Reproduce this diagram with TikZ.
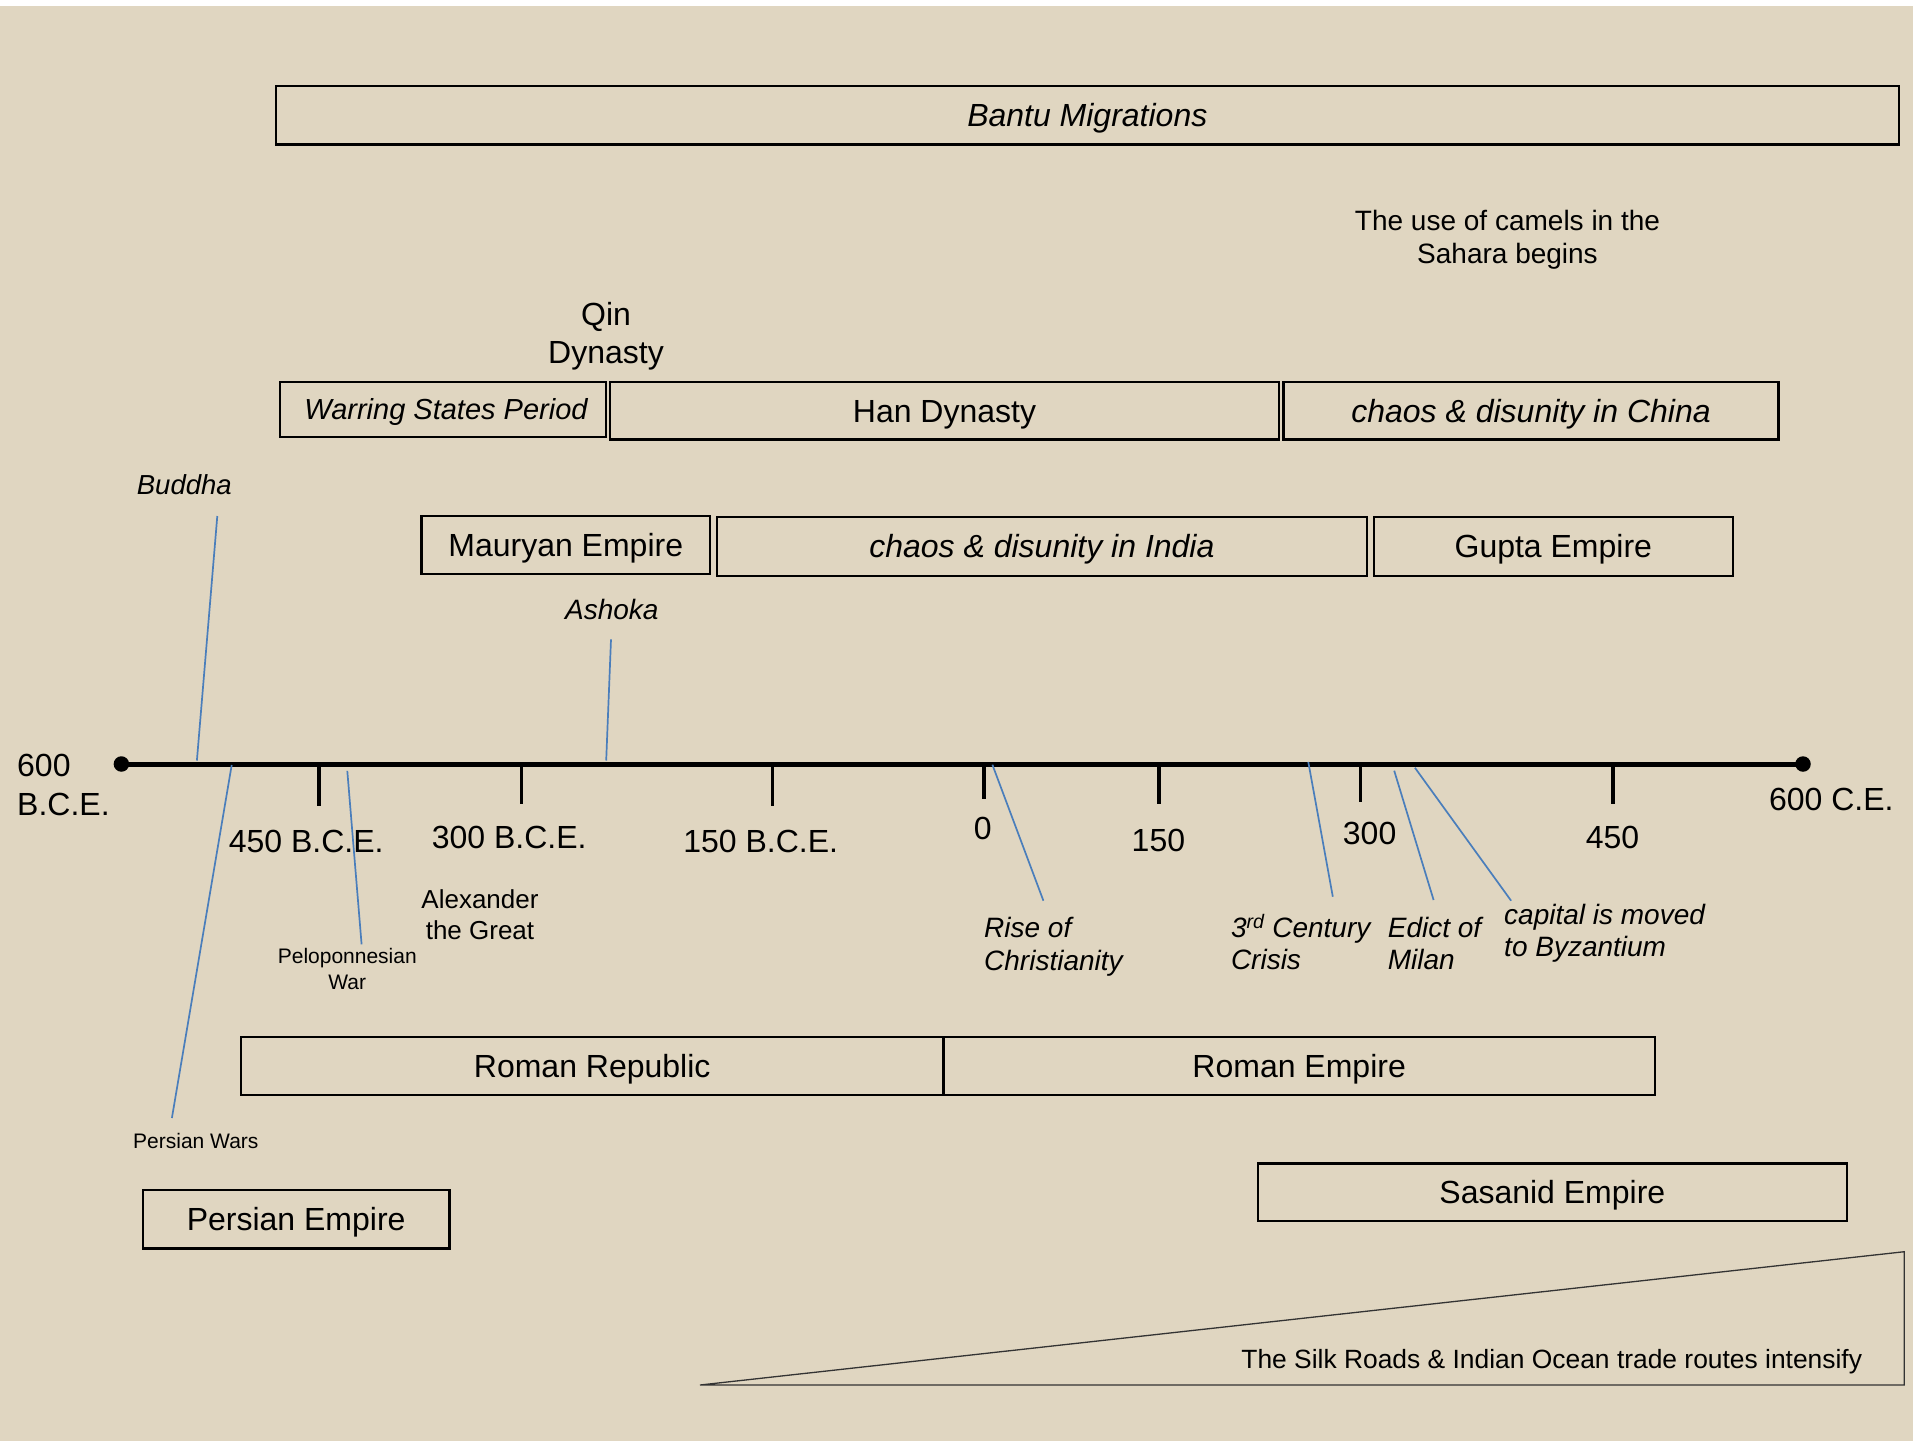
\documentclass[tikz,border=0pt]{standalone}
\usepackage{fontspec}
\setmainfont{Liberation Sans}
\definecolor{bg}{RGB}{224,214,193}
\definecolor{linkblue}{RGB}{74,126,187}
\newcommand{\fsz}[2]{\fontsize{#1}{#2}\selectfont}
\begin{document}
\begin{tikzpicture}[x=1pt,y=-1pt,
  box/.style={draw=black,line width=2.4pt,inner sep=0pt,text height=23.7pt,text depth=0.6pt,font=\fsz{32}{38}},
  itbox/.style={box,font=\fsz{32}{38}\itshape},
  lbl/.style={inner sep=0pt},
  conn/.style={draw=linkblue,line width=1.7pt},
  tickmark/.style={line width=3.6pt},
  dot/.style={circle,fill=black,inner sep=0pt,minimum size=15.5pt}]
% background
\useasboundingbox (0,0) rectangle (1913,1441);
\fill[white] (0,0) rectangle (1913,1441);
\fill[bg] (0,6) rectangle (1913,1441);

% period boxes
\node[itbox,minimum width=1622.8pt,minimum height=58.3pt] (bantu) at (1087.3,115.15) {Bantu Migrations};
\node[box,minimum width=326pt,minimum height=54.7pt,font=\fsz{29}{35}\itshape,text height=21.5pt,text depth=0.5pt] (warring) at (443,409.35) {\hspace*{6pt}Warring States Period};
\node[box,minimum width=669pt,minimum height=57.6pt] (han) at (944.5,410.5) {Han Dynasty};
\node[itbox,minimum width=495pt,minimum height=57.6pt] (china) at (1531,410.5) {chaos \& disunity in China};
\node[box,minimum width=288.5pt,minimum height=58.3pt] (mauryan) at (565.75,544.85) {Mauryan Empire};
\node[itbox,minimum width=650.2pt,minimum height=59.3pt] (india) at (1041.9,546.35) {chaos \& disunity in India};
\node[box,minimum width=359pt,minimum height=59.3pt] (gupta) at (1553.3,546.35) {Gupta Empire};
\node[box,minimum width=702.2pt,minimum height=58.3pt] (republic) at (592.2,1065.85) {Roman Republic};
\node[box,minimum width=711.7pt,minimum height=58.3pt] (rempire) at (1299.15,1065.85) {Roman Empire};
\node[box,minimum width=306.7pt,minimum height=58.3pt] (persian) at (296.15,1219.35) {Persian Empire};
\node[box,minimum width=589.3pt,minimum height=57.7pt] (sasanid) at (1552.35,1192.15) {Sasanid Empire};

% timeline
\node[dot] (tlL) at (121.4,764) {};
\node[dot] (tlR) at (1803,764) {};
\draw[line width=5pt] (tlL.center) -- (tlR.center);
\foreach \n/\x/\b in {t450/318.7/806,t300/521.4/804,t150/772.3/806,t0/984/799,c150/1159/804,c300/1360.6/802,c450/1613.2/804}{
  \coordinate (\n a) at (\x,764);
  \coordinate (\n b) at (\x,\b);
  \draw[tickmark] (\n a) -- (\n b);
}

% timeline labels (multi-line nodes are anchored at the baseline of their last line)
\node[lbl,anchor=base west,align=left,font=\fsz{32}{38.4}] (l600b) at (17,815) {600\\B.C.E.};
\node[lbl,anchor=base west,font=\fsz{32}{38}] (l450b) at (228.6,852) {450 B.C.E.};
\node[lbl,anchor=base west,font=\fsz{32}{38}] (l300b) at (431.7,848.2) {300 B.C.E.};
\node[lbl,anchor=base west,font=\fsz{32}{38}] (l150b) at (683.2,852) {150 B.C.E.};
\node[lbl,anchor=base,font=\fsz{32}{38}] (l0) at (982.7,839.3) {0};
\node[lbl,anchor=base,font=\fsz{32}{38}] (l150) at (1158.4,851.7) {150};
\node[lbl,anchor=base,font=\fsz{32}{38}] (l300) at (1369.6,844.3) {300};
\node[lbl,anchor=base,font=\fsz{32}{38}] (l450) at (1612.5,848.3) {450};
\node[lbl,anchor=base west,font=\fsz{32}{38}] (l600c) at (1768.9,810) {600 C.E.};

% event labels
\node[lbl,anchor=base,align=center,font=\fsz{32}{38}] (qin) at (606,363) {Qin\\Dynasty};
\node[lbl,anchor=base,align=center,font=\fsz{28}{32.6}] (camels) at (1507.5,263.3) {The use of camels in the\\Sahara begins};
\node[lbl,anchor=base west,font=\fsz{27.5}{33}\itshape] (buddha) at (136.7,494.3) {Buddha};
\node[lbl,anchor=base,font=\fsz{28}{33}\itshape] (ashoka) at (611.8,619.3) {Ashoka};
\node[lbl,anchor=base,align=center,font=\fsz{26}{31.4}] (alex) at (480,939.4) {Alexander\\the Great};
\node[lbl,anchor=base,align=center,font=\fsz{21}{25.5}] (pelop) at (347.3,989) {Peloponnesian\\War};
\node[lbl,anchor=base west,font=\fsz{21}{25.5}] (pwars) at (133,1148.9) {Persian Wars};
\node[lbl,anchor=base west,align=left,font=\fsz{28}{33.4}\itshape] (rise) at (984,970.7) {Rise of\\Christianity};
\node[lbl,anchor=base west,align=left,font=\fsz{28}{32.2}\itshape] (crisis) at (1230.8,969.5) {3\textsuperscript{rd} Century\\Crisis};
\node[lbl,anchor=base west,align=left,font=\fsz{28}{32.2}\itshape] (edict) at (1387.7,969.5) {Edict of\\Milan};
\node[lbl,anchor=base west,align=left,font=\fsz{28}{32.7}\itshape] (capital) at (1504,956.7) {capital is moved\\to Byzantium};

% connectors
\coordinate (buddhaA) at (217.3,516);   \coordinate (buddhaB) at (196.9,760.5);
\coordinate (ashokaA) at (611,639.3);   \coordinate (ashokaB) at (606.2,760.5);
\coordinate (pwarsA) at (231.7,765);    \coordinate (pwarsB) at (171.9,1118);
\coordinate (pelopA) at (347.3,770.9);  \coordinate (pelopB) at (361.6,944.4);
\coordinate (riseA) at (992.4,764.7);   \coordinate (riseB) at (1043.4,900.7);
\coordinate (crisisA) at (1308.3,762);  \coordinate (crisisB) at (1332.8,896.7);
\coordinate (edictA) at (1394.2,770.7); \coordinate (edictB) at (1433.6,900);
\coordinate (capA) at (1414.9,767.7);   \coordinate (capB) at (1511.1,900.7);
\draw[conn] (buddhaA) -- (buddhaB);
\draw[conn] (ashokaA) -- (ashokaB);
\draw[conn] (pwarsA) -- (pwarsB);
\draw[conn] (pelopA) -- (pelopB);
\draw[conn] (riseA) -- (riseB);
\draw[conn] (crisisA) -- (crisisB);
\draw[conn] (edictA) -- (edictB);
\draw[conn] (capA) -- (capB);

% trade routes wedge
\coordinate (trA) at (700,1385);
\coordinate (trB) at (1904.2,1251.7);
\coordinate (trC) at (1904.2,1385);
\draw[line width=1.3pt,draw=black!80] (trA) -- (trB) -- (trC) -- cycle;
\node[lbl,anchor=base east,font=\fsz{26.4}{31}] (silk) at (1862.3,1368.3) {The Silk Roads \& Indian Ocean trade routes intensify};
\end{tikzpicture}
\end{document}
